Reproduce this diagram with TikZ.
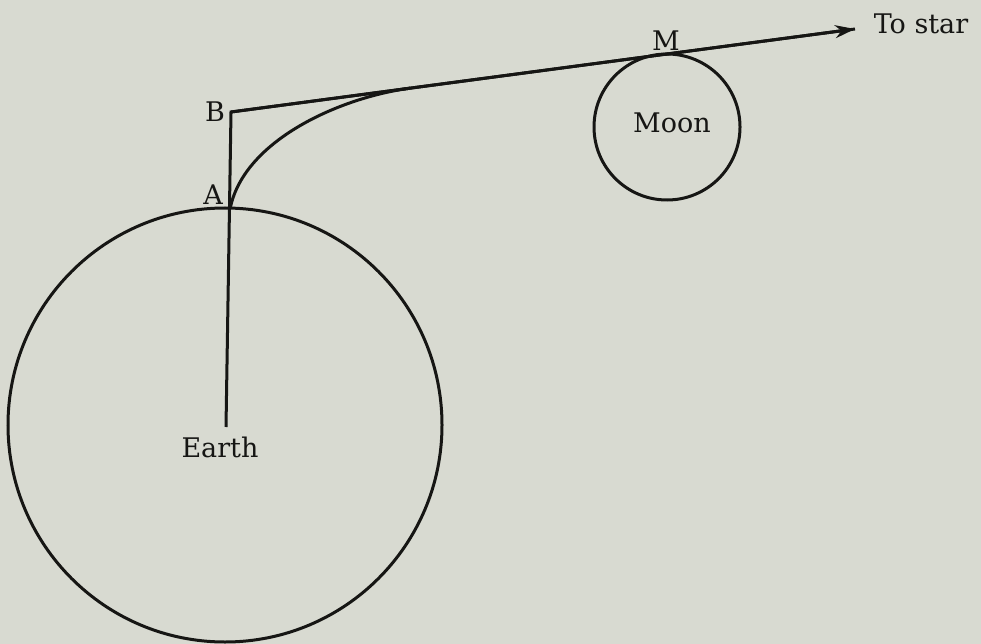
\documentclass[tikz,border=0pt]{standalone}
\usepackage{fontspec}
\setmainfont{DejaVu Serif}
\usetikzlibrary{arrows.meta,calc}
\definecolor{paper}{RGB}{216,218,209}
\definecolor{ink}{RGB}{22,22,20}
\tikzset{
  body/.style={circle,draw=ink,line width=3pt,inner sep=0pt},
  lbl/.style={text=ink,inner sep=0pt,font=\fontsize{27}{32}\selectfont},
  stroke/.style={draw=ink,line width=3pt}
}
\begin{document}
\begin{tikzpicture}[x=1pt,y=-1pt]
\fill[paper] (0,0) rectangle (981,644);
\useasboundingbox (0,0) rectangle (981,644);
% bodies
\node[body,minimum size=434pt] (earth) at (225,425) {};
\node[body,minimum size=146pt] (moon) at (667,127) {};
% points
\coordinate (B) at (231,112);
\coordinate (A) at (230.5,207);
\coordinate (C) at (226,427);
\coordinate (T) at (855,29);
\coordinate (J) at ($(B)!0.287!(T)$);
% lines
\draw[stroke,line join=miter] (C) -- (B) -- (T);
\draw[stroke,-{Stealth[length=20pt,width=13pt]}] (B) -- (T);
\draw[stroke] (A) .. controls (245,140) and (340,97.6) .. (J);
% labels
\node[lbl] (lA) at (213,195) {A};
\node[lbl] (lB) at (215,112) {B};
\node[lbl] (lM) at (666,41) {M};
\node[lbl] (lE) at (220,447) {Earth};
\node[lbl] (lMoon) at (672,123) {Moon};
\node[lbl] (lT) at (921,24) {To star};
\end{tikzpicture}
\end{document}
